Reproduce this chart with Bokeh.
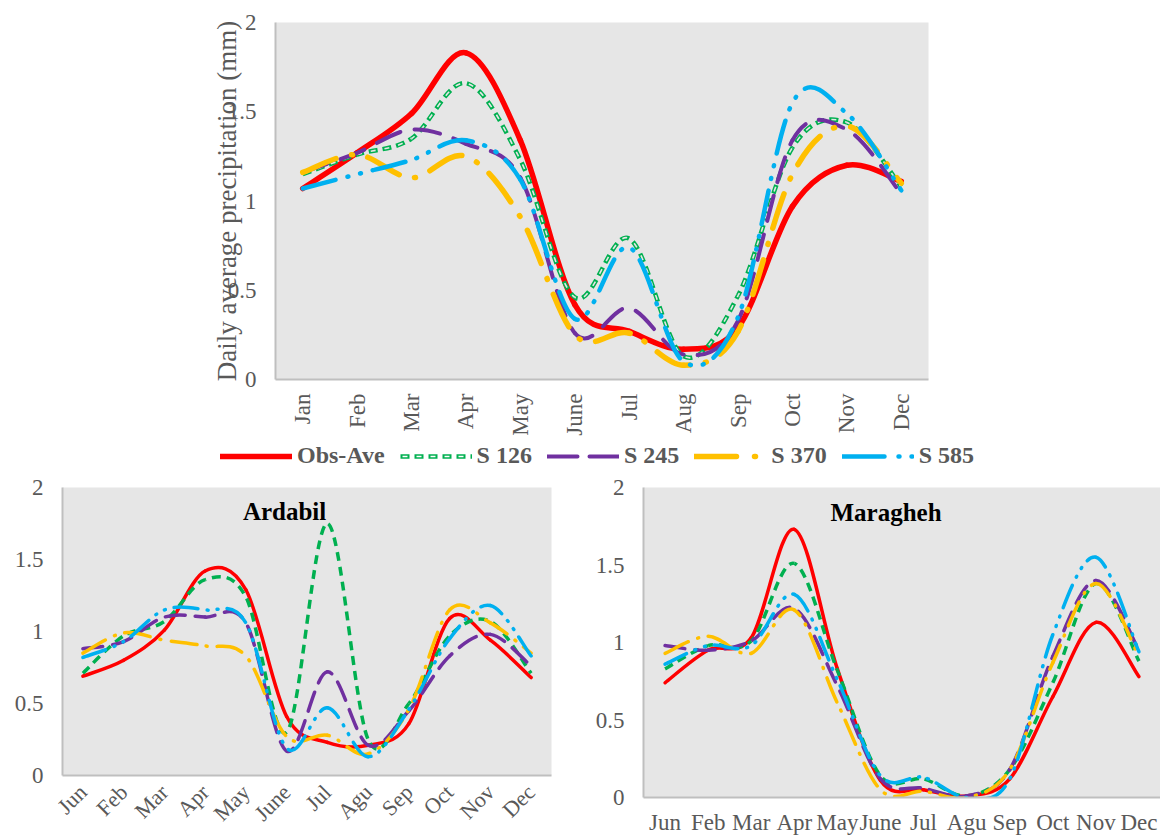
import math
import numpy as np
from bokeh.plotting import figure
from bokeh.models import Range1d, FixedTicker, Label, Legend, LegendItem, ColumnDataSource
from bokeh.layouts import column, row
from bokeh.embed import file_html
from bokeh.resources import INLINE

# ---------------- data ----------------
months_top = ["Jan", "Feb", "Mar", "Apr", "May", "June", "Jul", "Aug", "Sep", "Oct", "Nov", "Dec"]
months_bottom = ["Jun", "Feb", "Mar", "Apr", "May", "June", "Jul", "Agu", "Sep", "Oct", "Nov", "Dec"]
y_ticks = [0, 0.5, 1, 1.5, 2]
y_tick_labels = ["0", "0.5", "1", "1.5", "2"]
series_names = ["Obs-Ave", "S 126", "S 245", "S 370", "S 585"]

# Average (top chart)
avg_obs = [1.07, 1.27, 1.49, 1.83, 1.34, 0.42, 0.27, 0.17, 0.29, 0.97, 1.20, 1.11]
avg_s126 = [1.15, 1.26, 1.35, 1.66, 1.23, 0.46, 0.79, 0.13, 0.47, 1.30, 1.44, 1.08]
avg_s245 = [1.16, 1.27, 1.40, 1.32, 1.13, 0.26, 0.40, 0.14, 0.33, 1.34, 1.40, 1.04]
avg_s370 = [1.16, 1.26, 1.13, 1.25, 0.91, 0.25, 0.26, 0.08, 0.27, 1.15, 1.42, 1.10]
avg_s585 = [1.07, 1.15, 1.23, 1.34, 1.12, 0.34, 0.74, 0.10, 0.35, 1.55, 1.49, 1.06]

# Ardabil
ard_obs = [0.69, 0.80, 1.01, 1.42, 1.29, 0.41, 0.23, 0.21, 0.36, 1.09, 0.94, 0.68]
ard_s126 = [0.71, 0.97, 1.07, 1.36, 1.24, 0.30, 1.75, 0.25, 0.50, 0.97, 1.07, 0.71]
ard_s245 = [0.88, 0.93, 1.10, 1.10, 1.06, 0.17, 0.72, 0.21, 0.45, 0.83, 0.98, 0.76]
ard_s370 = [0.85, 0.99, 0.94, 0.90, 0.83, 0.27, 0.28, 0.15, 0.46, 1.15, 1.06, 0.85]
ard_s585 = [0.82, 0.93, 1.15, 1.15, 1.06, 0.19, 0.47, 0.13, 0.46, 0.95, 1.18, 0.83]

# Maragheh
mar_obs = [0.74, 0.95, 1.03, 1.73, 0.83, 0.11, 0.05, 0.01, 0.12, 0.65, 1.13, 0.78]
mar_s126 = [0.83, 0.98, 1.01, 1.51, 0.82, 0.14, 0.12, 0.01, 0.18, 0.74, 1.38, 0.88]
mar_s245 = [0.98, 0.95, 1.01, 1.22, 0.72, 0.12, 0.06, 0.01, 0.18, 0.91, 1.40, 0.95]
mar_s370 = [0.93, 1.04, 0.93, 1.21, 0.61, 0.05, 0.04, 0.00, 0.18, 0.87, 1.38, 0.91]
mar_s585 = [0.86, 0.98, 0.98, 1.31, 0.76, 0.14, 0.13, 0.00, 0.12, 1.05, 1.55, 0.94]

# ---------------- styling ----------------
FONT = "Liberation Serif"
TXT = "#595959"
BG = "#E6E6E6"
AXIS = "#BFBFBF"
RED, GREEN, PURPLE, YELLOW, CYAN = "#FF0000", "#00B050", "#7030A0", "#FFC000", "#00B0F0"

TOP_STYLES = [
    [dict(line_color=RED, line_width=5.5, line_cap="round")],
    [dict(line_color=GREEN, line_width=4.5, line_dash="9 5"),
     dict(line_color=BG, line_width=1.6, line_dash="0 2 5 7")],
    [dict(line_color=PURPLE, line_width=4, line_dash="26 14", line_cap="round")],
    [dict(line_color=YELLOW, line_width=5.5, line_dash="36 16 1 16", line_cap="round")],
    [dict(line_color=CYAN, line_width=4.5, line_dash="34 12 1 12 1 12", line_cap="round")],
]
LEGEND_STYLES = [
    [dict(line_color=RED, line_width=5.5, line_cap="round")],
    [dict(line_color=GREEN, line_width=4.5, line_dash="9 5"),
     dict(line_color="white", line_width=1.6, line_dash="0 2 5 7")],
    [dict(line_color=PURPLE, line_width=4, line_dash="30 12", line_cap="round")],
    [dict(line_color=YELLOW, line_width=5.5, line_dash="42 18 1 16", line_cap="round")],
    [dict(line_color=CYAN, line_width=4.5, line_dash="42 14 1 12 1 12", line_cap="round")],
]
BOTTOM_STYLES = [
    [dict(line_color=RED, line_width=3.5, line_cap="round")],
    [dict(line_color=GREEN, line_width=3.5, line_dash="9 6")],
    [dict(line_color=PURPLE, line_width=3.5, line_dash="20 10", line_cap="round")],
    [dict(line_color=YELLOW, line_width=3.5, line_dash="26 10 1 10", line_cap="round")],
    [dict(line_color=CYAN, line_width=3.5, line_dash="24 9 1 9 1 9", line_cap="round")],
]


def smooth_source(values, px_x, px_y):
    """Bezier segments (Catmull-Rom style, like Excel's smoothed lines) through the data points.
    dash_offset keeps the dash pattern continuous from one segment to the next."""
    n = len(values)
    xs = list(range(n))
    d = {k: [] for k in ("x0", "y0", "x1", "y1", "cx0", "cy0", "cx1", "cy1", "dash_offset")}
    t = np.linspace(0.0, 1.0, 40)
    run = 0.0
    for i in range(n - 1):
        a = max(i - 1, 0)
        b = min(i + 2, n - 1)
        x0, y0 = xs[i], values[i]
        x1, y1 = xs[i + 1], values[i + 1]
        cx0 = xs[i] + (xs[i + 1] - xs[a]) / 6.0
        cy0 = values[i] + (values[i + 1] - values[a]) / 6.0
        cx1 = xs[i + 1] - (xs[b] - xs[i]) / 6.0
        cy1 = values[i + 1] - (values[b] - values[i]) / 6.0
        for k, v in zip(("x0", "y0", "x1", "y1", "cx0", "cy0", "cx1", "cy1"),
                        (x0, y0, x1, y1, cx0, cy0, cx1, cy1)):
            d[k].append(v)
        d["dash_offset"].append(int(round(run)))
        bx = (1 - t) ** 3 * x0 + 3 * (1 - t) ** 2 * t * cx0 + 3 * (1 - t) * t ** 2 * cx1 + t ** 3 * x1
        by = (1 - t) ** 3 * y0 + 3 * (1 - t) ** 2 * t * cy0 + 3 * (1 - t) * t ** 2 * cy1 + t ** 3 * y1
        run += float(np.sum(np.hypot(np.diff(bx) * px_x, np.diff(by) * px_y)))
    return ColumnDataSource(d)


def make_fig(width, height, borders, months, xfont, orient, standoff_x):
    left, right, top, bottom = borders
    p = figure(width=width, height=height,
               x_range=Range1d(-0.5, len(months) - 0.5), y_range=Range1d(0, 2),
               output_backend="svg", toolbar_location=None,
               min_border_left=left, min_border_right=right,
               min_border_top=top, min_border_bottom=bottom)
    p.frame_align = False
    p.background_fill_color = BG
    p.border_fill_color = "white"
    p.outline_line_color = None
    p.xgrid.visible = False
    p.ygrid.visible = False
    for ax in (p.xaxis[0], p.yaxis[0]):
        ax.axis_line_color = AXIS
        ax.axis_line_width = 2
        ax.major_tick_line_color = None
        ax.minor_tick_line_color = None
        ax.major_tick_out = 0
        ax.major_tick_in = 0
        ax.major_label_text_font = FONT
        ax.major_label_text_color = TXT
    p.xaxis.ticker = FixedTicker(ticks=list(range(len(months))))
    p.xaxis.major_label_overrides = {i: m for i, m in enumerate(months)}
    p.xaxis.major_label_text_font_size = xfont
    p.xaxis.major_label_orientation = orient
    p.xaxis.major_label_standoff = standoff_x
    p.yaxis.ticker = FixedTicker(ticks=y_ticks)
    p.yaxis.major_label_overrides = dict(zip(y_ticks, y_tick_labels))
    p.yaxis.major_label_text_font_size = "23px"
    p.yaxis.major_label_standoff = 19
    # pixels per data unit (frame size / range span), used for continuous dashes
    p._px = ((width - left - right) / 12.0, (height - top - bottom) / 2.0)
    return p


def draw_series(p, series, styles, px, visible=True):
    renderers = []
    for values, style_list in zip(series, styles):
        src = smooth_source(values, px[0], px[1])
        rs = []
        for st in style_list:
            rs.append(p.bezier(x0="x0", y0="y0", x1="x1", y1="y1",
                               cx0="cx0", cy0="cy0", cx1="cx1", cy1="cy1",
                               line_dash_offset="dash_offset",
                               source=src, visible=visible, **st))
        renderers.append(rs)
    return renderers


avg_series = [avg_obs, avg_s126, avg_s245, avg_s370, avg_s585]

# ---------------- top chart (average) ----------------
TOP_DIM = (1160, 440, (275, 232, 22, 61))
top = make_fig(TOP_DIM[0], TOP_DIM[1], TOP_DIM[2], months_top, "23px", math.pi / 2, 14)
top_px = ((1160 - 275 - 232) / 12.0, (440 - 22 - 61) / 2.0)
draw_series(top, avg_series, TOP_STYLES, top_px)
top.yaxis.axis_label = "Daily average precipitation (mm)"
top.yaxis.axis_label_text_font = FONT
top.yaxis.axis_label_text_font_style = "normal"
top.yaxis.axis_label_text_font_size = "27px"
top.yaxis.axis_label_text_color = TXT
top.yaxis.axis_label_standoff = -17

# ---------------- legend strip for the top chart ----------------
leg_fig = figure(width=1160, height=30, x_range=Range1d(-0.5, 11.5), y_range=Range1d(0, 2),
                 output_backend="svg", toolbar_location=None,
                 x_axis_location=None, y_axis_location=None,
                 min_border_left=0, min_border_right=0, min_border_top=0, min_border_bottom=0)
leg_fig.frame_align = False
leg_fig.outline_line_color = None
leg_fig.background_fill_color = "white"
leg_fig.grid.visible = False
leg_rs = draw_series(leg_fig, avg_series, LEGEND_STYLES, top_px, visible=False)
legend = Legend(items=[LegendItem(label=n, renderers=r) for n, r in zip(series_names, leg_rs)],
                orientation="horizontal", location=(220, 1),
                glyph_width=72, glyph_height=20, label_standoff=5, spacing=15,
                padding=0, margin=0, background_fill_alpha=0, border_line_alpha=0,
                inactive_fill_alpha=0,
                label_text_font=FONT, label_text_font_style="bold",
                label_text_font_size="24px", label_text_color=TXT)
leg_fig.add_layout(legend)

# ---------------- Ardabil ----------------
ard = make_fig(570, 367, (62, 19, 17, 61), months_bottom, "22px", math.pi / 4, 13)
draw_series(ard, [ard_obs, ard_s126, ard_s245, ard_s370, ard_s585], BOTTOM_STYLES,
            ((570 - 62 - 19) / 12.0, (367 - 17 - 61) / 2.0))
ard.add_layout(Label(x=4.95, y=1.83, text="Ardabil", text_align="center", text_baseline="middle",
                     text_font=FONT, text_font_style="bold", text_font_size="25px",
                     text_color="black"))

# ---------------- Maragheh ----------------
mar = make_fig(590, 367, (73, 0, 17, 39), months_bottom, "23px", "horizontal", 12)
draw_series(mar, [mar_obs, mar_s126, mar_s245, mar_s370, mar_s585], BOTTOM_STYLES,
            ((590 - 73) / 12.0, (367 - 17 - 39) / 2.0))
mar.add_layout(Label(x=5.13, y=1.84, text="Maragheh", text_align="center", text_baseline="middle",
                     text_font=FONT, text_font_style="bold", text_font_size="25px",
                     text_color="black"))

layout = column(top, leg_fig, row(ard, mar))
open("out.html", "w").write(file_html(layout, INLINE))
